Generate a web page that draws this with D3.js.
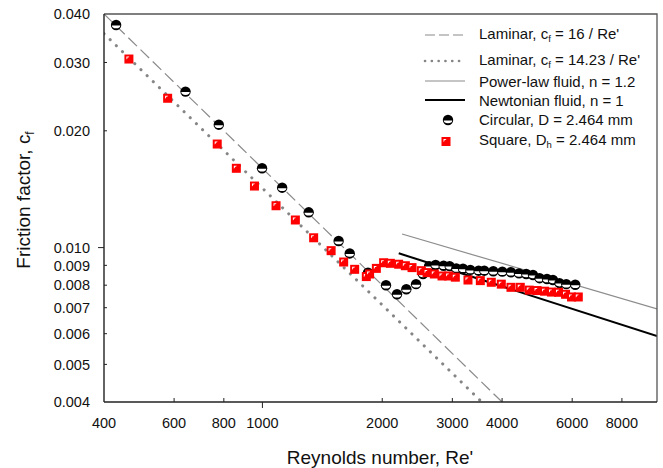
<!DOCTYPE html>
<html>
<head>
<meta charset="utf-8">
<script src="https://cdn.jsdelivr.net/npm/d3@7"></script>
<style>
  body { margin: 0; background: #fff; }
  svg text { font-family: "Liberation Sans", Arial, sans-serif; fill: #111; }
</style>
</head>
<body>
<svg id="chart" width="663" height="468"></svg>
<script>
'use strict';

// model lines, [Re', cf] end points
let laminar16 = [[400, 0.040], [4000, 0.004]];
let laminar1423 = [[400, 0.0356], [3557, 0.004]];
let powerLaw = [[2243, 0.01084], [9800, 0.00695]];
let newtonian = [[2200, 0.00967], [9800, 0.00592]];

// circular tube, D = 2.464 mm
let circRe = [429, 641, 777, 998, 1121, 1307, 1554, 1657, 1842, 2044, 2178, 2299, 2432, 2532,
    2622, 2723, 2852, 2953, 3070, 3191, 3329, 3492, 3609, 3802, 4005, 4211, 4411, 4600,
    4783, 4970, 5187, 5369, 5576, 5799, 6108];
let circCf = [0.03747, 0.02524, 0.02074, 0.01601, 0.01427, 0.01233, 0.01040, 0.00966, 0.00862,
    0.00800, 0.00758, 0.00781, 0.00805, 0.00855, 0.00896, 0.00902, 0.00898, 0.00896, 0.00884,
    0.00882, 0.00876, 0.00872, 0.00872, 0.00869, 0.00867, 0.00864, 0.00858, 0.00855, 0.00850,
    0.00834, 0.00830, 0.00825, 0.00810, 0.00805, 0.00802];

// square tube, Dh = 2.464 mm
let sqRe = [462, 578, 770, 860, 955, 1082, 1210, 1345, 1488, 1600, 1705, 1824, 1859, 1933, 2016,
    2096, 2199, 2286, 2376, 2507, 2592, 2703, 2826, 2936, 3052, 3284, 3527, 3758, 3982, 4211,
    4444, 4681, 4896, 5115, 5324, 5545, 5775, 5978, 6216];
let sqCf = [0.03062, 0.02426, 0.01849, 0.01601, 0.01441, 0.01282, 0.01178, 0.01060, 0.00982,
    0.00918, 0.00879, 0.00842, 0.00855, 0.00884, 0.00914, 0.00911, 0.00906, 0.00898, 0.00888,
    0.00872, 0.00862, 0.00855, 0.00845, 0.00845, 0.00839, 0.00825, 0.00822, 0.00814, 0.00805,
    0.00790, 0.00790, 0.00777, 0.00775, 0.00772, 0.00768, 0.00767, 0.00758, 0.00746, 0.00746];

let xTicks = [400, 600, 800, 1000, 2000, 3000, 4000, 6000, 8000];
let xMajor = [1000];
let yTicks = [0.004, 0.005, 0.006, 0.007, 0.008, 0.009, 0.010, 0.020, 0.030, 0.040];
let yMajor = [0.010];

let svg = d3.select("#chart");
let plotLeft = 104, plotRight = 657, plotTop = 14, plotBottom = 402;

let x = d3.scaleLog().domain([400, 9800]).range([plotLeft, plotRight]);
let y = d3.scaleLog().domain([0.004, 0.040]).range([plotBottom, plotTop]);

svg.append("clipPath").attr("id", "plotArea")
    .append("rect")
    .attr("x", plotLeft).attr("y", plotTop)
    .attr("width", plotRight - plotLeft).attr("height", plotBottom - plotTop);

let line = d3.line().x(d => x(d[0])).y(d => y(d[1]));
let plot = svg.append("g").attr("clip-path", "url(#plotArea)");

plot.append("path").attr("d", line(laminar16))
    .attr("fill", "none").attr("stroke", "#8a8a8a").attr("stroke-width", 1.2)
    .attr("stroke-dasharray", "12,5");
plot.append("path").attr("d", line(laminar1423))
    .attr("fill", "none").attr("stroke", "#858585").attr("stroke-width", 3)
    .attr("stroke-linecap", "round").attr("stroke-dasharray", "0.1,8.5");
plot.append("path").attr("d", line(powerLaw))
    .attr("fill", "none").attr("stroke", "#8c8c8c").attr("stroke-width", 1.2);
plot.append("path").attr("d", line(newtonian))
    .attr("fill", "none").attr("stroke", "#000").attr("stroke-width", 2);

function drawCircle(g, cx, cy) {
    g.append("circle").attr("cx", cx).attr("cy", cy).attr("r", 5.2)
        .attr("fill", "#000");
    g.append("path")
        .attr("d", `M${cx - 4.2},${cy + 0.5} A4.2,2.8 0 0 0 ${cx + 4.2},${cy + 0.5} Z`)
        .attr("fill", "#fff");
}

function drawSquare(g, cx, cy) {
    g.append("rect").attr("x", cx - 4.5).attr("y", cy - 4.5)
        .attr("width", 9).attr("height", 9).attr("fill", "#ff0000");
    g.append("path")
        .attr("d", `M${cx - 2.5},${cy - 2.5} h3 l-1,1 h-1 v1 l-1,1 Z`)
        .attr("fill", "#fff");
}

let circG = svg.append("g");
circRe.forEach((re, i) => drawCircle(circG, x(re), y(circCf[i])));
let sqG = svg.append("g");
sqRe.forEach((re, i) => drawSquare(sqG, x(re), y(sqCf[i])));

// frame
svg.append("path")
    .attr("d", `M${plotLeft},${plotTop} H${plotRight} V${plotBottom}`)
    .attr("fill", "none").attr("stroke", "#555").attr("stroke-width", 1.3);

// axes
let xAxis = svg.append("g").attr("transform", `translate(0,${plotBottom})`);
xAxis.append("line").attr("x1", plotLeft).attr("x2", plotRight)
    .attr("stroke", "#222").attr("stroke-width", 1.4);
xAxis.selectAll("line.tick").data(xTicks.filter(t => t !== 400)).enter()
    .append("line").attr("class", "tick")
    .attr("x1", d => x(d)).attr("x2", d => x(d))
    .attr("y1", 0).attr("y2", d => xMajor.includes(d) ? 6 : -4)
    .attr("stroke", "#222").attr("stroke-width", 1);
xAxis.selectAll("text").data(xTicks).enter()
    .append("text")
    .attr("x", d => x(d)).attr("y", 26)
    .attr("text-anchor", "middle")
    .style("font-size", "14.5px")
    .text(d => d);

let yAxis = svg.append("g").attr("transform", `translate(${plotLeft},0)`);
yAxis.append("line").attr("y1", plotTop).attr("y2", plotBottom)
    .attr("stroke", "#222").attr("stroke-width", 1.4);
yAxis.selectAll("line.tick").data(yTicks.filter(t => t !== 0.004 && t !== 0.040)).enter()
    .append("line").attr("class", "tick")
    .attr("y1", d => y(d)).attr("y2", d => y(d))
    .attr("x1", 0).attr("x2", d => yMajor.includes(d) ? -6 : 3)
    .attr("stroke", "#222").attr("stroke-width", 1);
yAxis.selectAll("text").data(yTicks).enter()
    .append("text")
    .attr("x", -14).attr("y", d => y(d))
    .attr("dy", "0.36em")
    .attr("text-anchor", "end")
    .style("font-size", "14.5px")
    .text(d => d3.format(".3f")(d));

// axis titles
svg.append("text")
    .attr("x", 380).attr("y", 464)
    .attr("text-anchor", "middle")
    .style("font-size", "19px")
    .text("Reynolds number, Re'");

let yTitle = svg.append("text")
    .attr("transform", "translate(30,200) rotate(-90)")
    .attr("text-anchor", "middle")
    .style("font-size", "19px");
yTitle.append("tspan").text("Friction factor, c");
yTitle.append("tspan").attr("dy", 4).style("font-size", "12px").text("f");

// legend
let legend = svg.append("g");
let lx0 = 425, lx1 = 465, tx = 479;

function legendText(yy, parts) {
    let t = legend.append("text").attr("x", tx).attr("y", yy).attr("dy", "0.35em")
        .style("font-size", "15px");
    let shifted = false;
    parts.forEach(p => {
        if (p.sub) {
            t.append("tspan").attr("dy", 3).style("font-size", "9.5px").text(p.sub);
            shifted = true;
        } else {
            t.append("tspan").attr("dy", shifted ? -3 : null).text(p.t);
            shifted = false;
        }
    });
}

legend.append("line").attr("x1", lx0).attr("x2", lx1).attr("y1", 35).attr("y2", 35)
    .attr("stroke", "#8a8a8a").attr("stroke-width", 1.2).attr("stroke-dasharray", "10,4");
legendText(34, [{t: "Laminar, c"}, {sub: "f"}, {t: " = 16 / Re'"}]);

legend.append("line").attr("x1", lx0).attr("x2", lx1).attr("y1", 61).attr("y2", 61)
    .attr("stroke", "#858585").attr("stroke-width", 2.6).attr("stroke-linecap", "round")
    .attr("stroke-dasharray", "0.1,6.7");
legendText(60, [{t: "Laminar, c"}, {sub: "f"}, {t: " = 14.23 / Re'"}]);

legend.append("line").attr("x1", lx0).attr("x2", lx1).attr("y1", 81).attr("y2", 81)
    .attr("stroke", "#8c8c8c").attr("stroke-width", 1.2);
legendText(82, [{t: "Power-law fluid, n = 1.2"}]);

legend.append("line").attr("x1", lx0).attr("x2", lx1).attr("y1", 100).attr("y2", 100)
    .attr("stroke", "#000").attr("stroke-width", 2);
legendText(101, [{t: "Newtonian fluid, n = 1"}]);

drawCircle(legend, 448, 120);
legendText(120, [{t: "Circular, D = 2.464 mm"}]);

drawSquare(legend, 446, 141.5);
legendText(140, [{t: "Square, D"}, {sub: "h"}, {t: " = 2.464 mm"}]);
</script>
</body>
</html>
